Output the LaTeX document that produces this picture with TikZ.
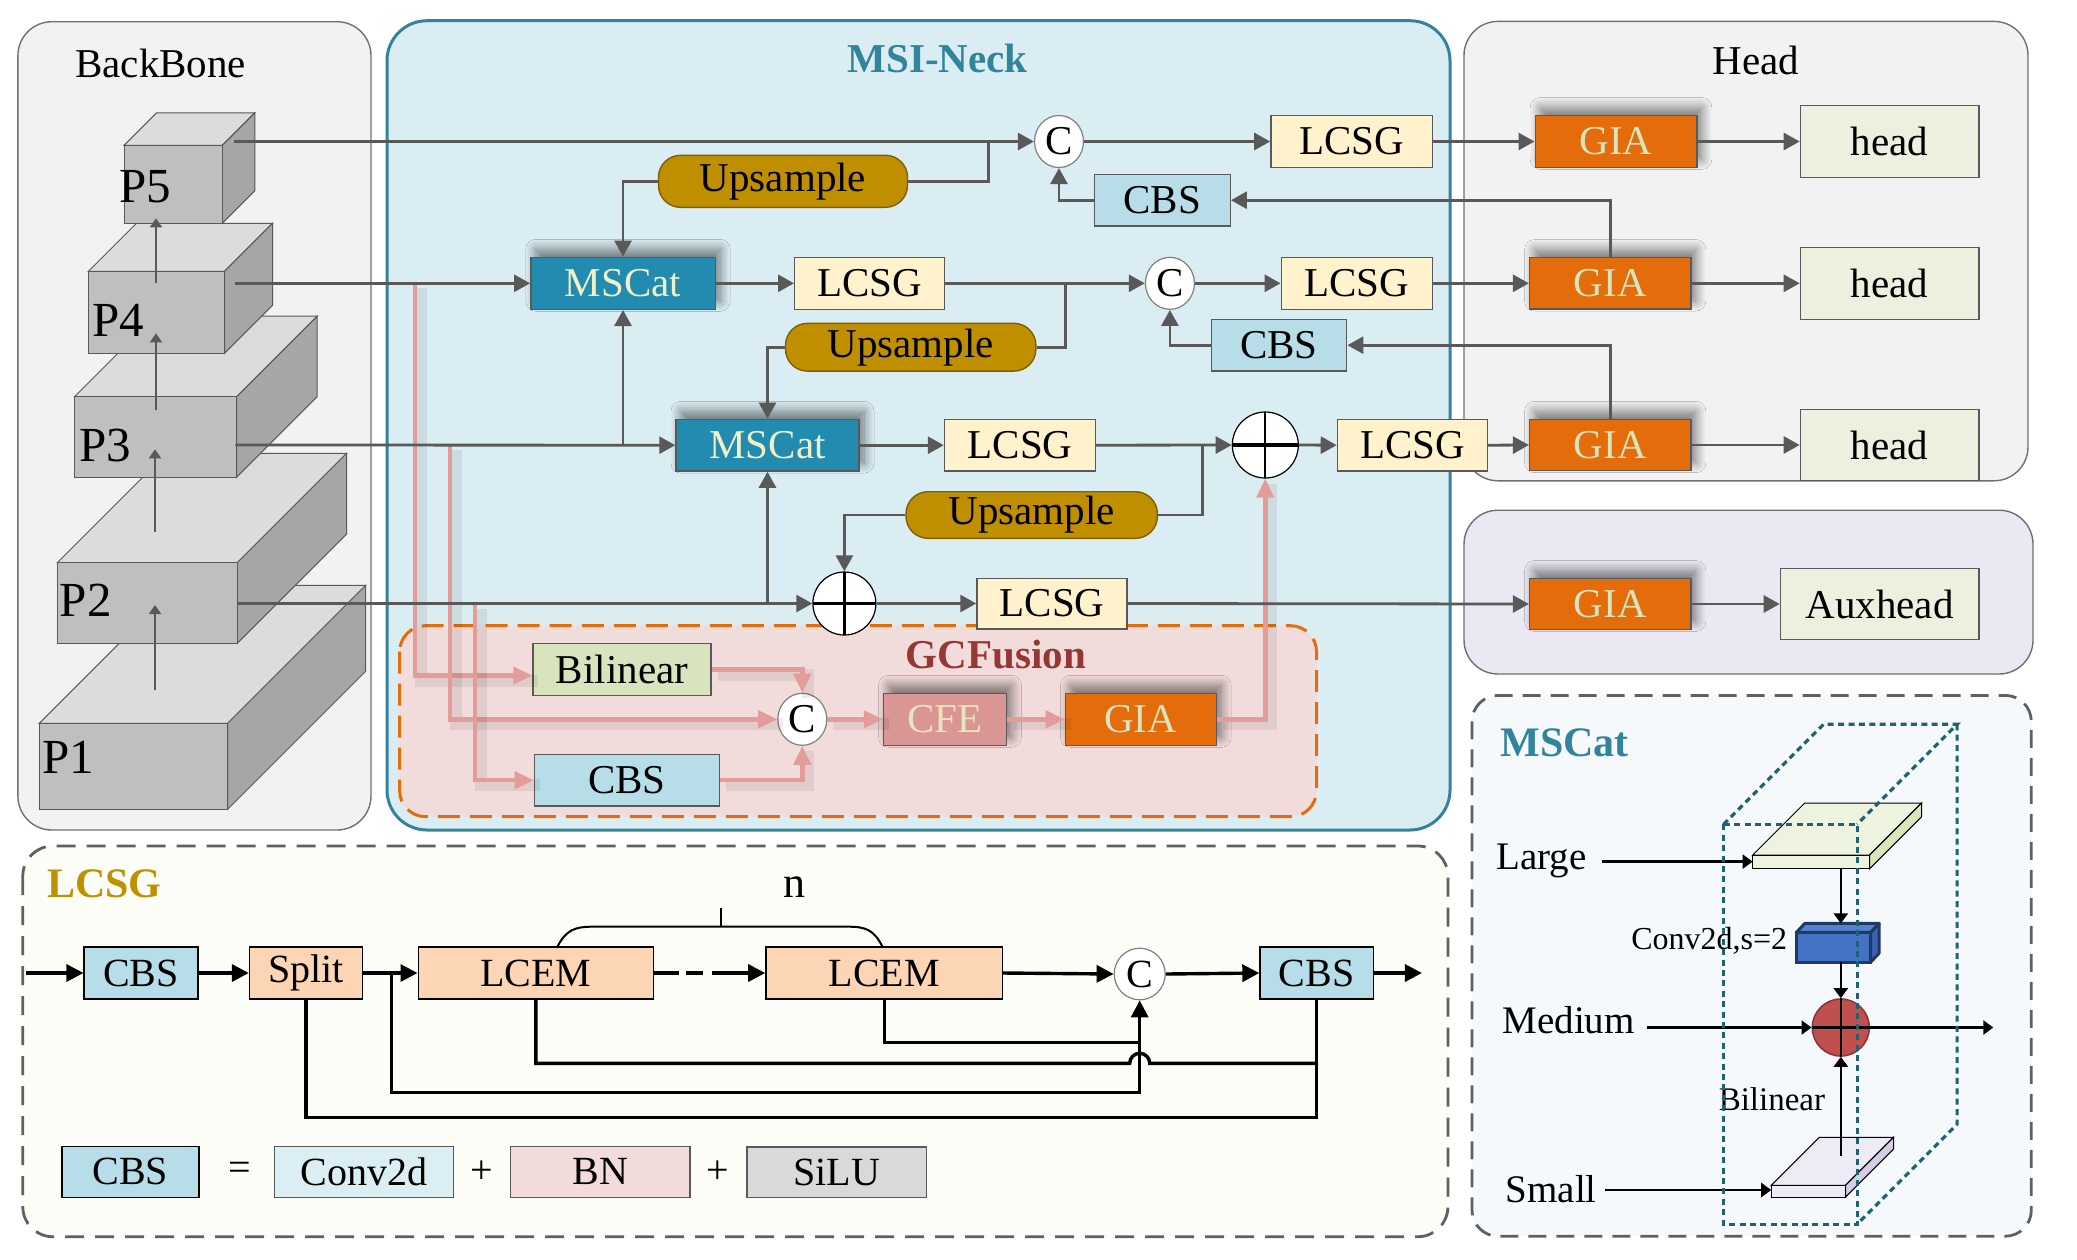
\documentclass[tikz,border=0pt]{standalone}
\usepackage{fontspec}
\setmainfont{Liberation Serif}
\usetikzlibrary{arrows.meta,shapes.geometric,shadows.blur,calc}

\definecolor{bbfill}{HTML}{F2F2F2}
\definecolor{panelline}{HTML}{707070}
\definecolor{neckfill}{HTML}{DAEDF3}
\definecolor{neckline}{HTML}{31849B}
\definecolor{auxfill}{HTML}{EAE8F2}
\definecolor{mspanel}{HTML}{F5F9FB}
\definecolor{lcpanel}{HTML}{FDFDF8}
\definecolor{dashgray}{HTML}{606060}
\definecolor{gcfill}{HTML}{F2DCDB}
\definecolor{gcline}{HTML}{E46C0A}
\definecolor{gctitle}{HTML}{953735}
\definecolor{lctitle}{HTML}{BF9000}
\definecolor{mstitle}{HTML}{31849B}
\definecolor{wire}{HTML}{595959}
\definecolor{pinkw}{HTML}{E39C97}
\definecolor{lcsgfill}{HTML}{FFF2CC}
\definecolor{msfill}{HTML}{228BAF}
\definecolor{mstext}{HTML}{EEF0C8}
\definecolor{upfill}{HTML}{BF8F00}
\definecolor{upline}{HTML}{7F6000}
\definecolor{cbsfill}{HTML}{B7DDE8}
\definecolor{giafill}{HTML}{E46C0A}
\definecolor{giatext}{HTML}{D7E4BD}
\definecolor{headfill}{HTML}{EBF1DE}
\definecolor{bilfill}{HTML}{D7E4BD}
\definecolor{cfefill}{HTML}{D99694}
\definecolor{cfetext}{HTML}{EBE3BE}
\definecolor{peach}{HTML}{FCD5B4}
\definecolor{convfill}{HTML}{DBEEF4}
\definecolor{bnfill}{HTML}{F2DCDB}
\definecolor{silufill}{HTML}{D9D9D9}
\definecolor{cubefront}{HTML}{BFBFBF}
\definecolor{cubetop}{HTML}{DCDCDC}
\definecolor{cubeside}{HTML}{A6A6A6}
\definecolor{cubeline}{HTML}{595959}
\definecolor{dotline}{HTML}{1F6272}
\definecolor{largefront}{HTML}{EEF3E0}
\definecolor{largeside}{HTML}{D7E4BC}
\definecolor{smallfront}{HTML}{EFEBF6}
\definecolor{smallside}{HTML}{D5CCE5}
\definecolor{convblue}{HTML}{4472C4}
\definecolor{convtop}{HTML}{5582D0}
\definecolor{convside}{HTML}{3A62AD}
\definecolor{convdark}{HTML}{1F3864}
\definecolor{redc}{HTML}{C0504D}
\definecolor{redline}{HTML}{8C3836}

\newcommand\myfs[1]{\fontsize{#1}{#1}\selectfont}
\newcommand\mycube[5]{%
  \filldraw[fill=cubetop,draw=cubeline,line width=0.5pt] (#1,#2) -- (#1+#5,#2-#5) -- (#3+#5,#2-#5) -- (#3,#2) -- cycle;
  \filldraw[fill=cubeside,draw=cubeline,line width=0.5pt] (#3,#2) -- (#3+#5,#2-#5) -- (#3+#5,#4-#5) -- (#3,#4) -- cycle;
  \filldraw[fill=cubefront,draw=cubeline,line width=0.5pt] (#1,#2) rectangle (#3,#4);}

\tikzset{
  txt/.style={font=\myfs{20.5}},
  bx/.style={draw=wire, line width=0.7pt, inner sep=0pt, txt},
  shd/.style={blur shadow={shadow xshift=2.5pt, shadow yshift=4pt, shadow blur radius=5pt, shadow blur steps=12, shadow opacity=50}},
  lcB/.style={bx, fill=lcsgfill},
  msB/.style={bx, fill=msfill, text=mstext, shd},
  upB/.style={bx, draw=upline, fill=upfill, rounded corners=11pt},
  cbsB/.style={bx, fill=cbsfill},
  giaB/.style={bx, fill=giafill, text=giatext, shd},
  headB/.style={bx, fill=headfill},
  bilB/.style={bx, fill=bilfill},
  cfeB/.style={bx, fill=cfefill, text=cfetext, shd},
  cN/.style={ellipse, draw=gray, line width=0.6pt, fill=white, inner sep=0pt, minimum width=24.5pt, minimum height=26pt, txt},
  plusN/.style={circle, draw=black, line width=0.6pt, fill=white, inner sep=0pt,
     path picture={\draw[line width=1.8pt] (path picture bounding box.west) -- (path picture bounding box.east);
                   \draw[line width=1.1pt] (path picture bounding box.north) -- (path picture bounding box.south);}},
  gw/.style={draw=wire, line width=1.4pt},
  ga/.style={gw, -{Triangle[length=8pt,width=8.5pt]}},
  pshadow/.style={preaction={draw=black, draw opacity=0.07, line width=6pt, -, transform canvas={shift={(3pt,-2.5pt)}}}},
  pw/.style={pshadow, draw=pinkw, line width=2.2pt},
  pa/.style={pw, -{Triangle[length=9.5pt,width=8.5pt]}},
  bw/.style={draw=black, line width=1.7pt},
  ba/.style={bw, -{Triangle[length=8.5pt,width=8.5pt]}},
  ka/.style={draw=black, line width=1.2pt, -{Triangle[length=5pt,width=7pt]}},
  ca/.style={draw=wire, line width=1pt, -{Triangle[length=4.5pt,width=6pt]}},
  lbB/.style={draw=black, line width=0.8pt, inner sep=0pt, font=\myfs{20}},
  ptxt/.style={font=\myfs{24.5}},
}

\begin{document}
\begin{tikzpicture}[x=0.5pt,y=-0.5pt]
\useasboundingbox (0,0) rectangle (2077,1259);
\fill[white] (0,0) rectangle (2077,1259);

% ---------- panels ----------
\filldraw[fill=bbfill,draw=panelline,line width=0.7pt,rounded corners=17pt] (17.9,21.7) rectangle (371,830);
\filldraw[fill=neckfill,draw=neckline,line width=1.5pt,rounded corners=20pt] (387,20.7) rectangle (1450,830);
\filldraw[fill=bbfill,draw=panelline,line width=0.7pt,rounded corners=17pt] (1464,21.4) rectangle (2028,480.8);
\filldraw[fill=auxfill,draw=panelline,line width=0.7pt,rounded corners=17pt] (1464,510.2) rectangle (2033,674);
\filldraw[fill=mspanel,draw=dashgray,line width=1.4pt,dash pattern=on 9pt off 5pt,rounded corners=13pt] (1472,695.4) rectangle (2031.3,1236.2);
\filldraw[fill=lcpanel,draw=dashgray,line width=1.4pt,dash pattern=on 9.5pt off 5.5pt,rounded corners=15pt] (22.8,846) rectangle (1447.9,1236.7);
\filldraw[fill=gcfill,draw=gcline,line width=1.5pt,dash pattern=on 11pt off 5pt,rounded corners=13pt] (399.6,625.7) rectangle (1316.5,816.7);

% ---------- titles ----------
\node[txt] (tBB) at (160.7,63.3) {BackBone};
\node[txt,text=mstitle] (tNeck) at (937.7,58.3) {\bfseries MSI-Neck};
\node[txt] (tHead) at (1756,60.3) {Head};
\node[txt,text=gctitle] (tGC) at (995.9,655) {\bfseries GCFusion};
\node[font=\myfs{21},text=mstitle] (tMS) at (1564.8,742.6) {\bfseries MSCat};
\node[font=\myfs{21},text=lctitle] (tLC) at (104.2,883.3) {\bfseries LCSG};

% ---------- backbone cubes ----------
\mycube{39.3}{723.3}{227.7}{809.3}{138}
\mycube{57.3}{562.7}{237.3}{643.3}{109.4}
\mycube{74.5}{396.7}{236.6}{477.3}{80.6}
\mycube{88.4}{271.3}{224.5}{353.3}{48}
\mycube{124.1}{145.3}{222.3}{223.3}{32.5}
\node[ptxt] (tP5) at (145,186.7) {P5};
\node[ptxt] (tP4) at (118.3,320) {P4};
\node[ptxt] (tP3) at (105,446) {P3};
\node[ptxt] (tP2) at (85.7,600) {P2};
\node[ptxt] (tP1) at (68.3,757.3) {P1};
\coordinate (a1s) at (155,690);   \coordinate (a1e) at (155,605);
\coordinate (a2s) at (155,531.7); \coordinate (a2e) at (155,449.3);
\coordinate (a3s) at (156,410);   \coordinate (a3e) at (156,333.3);
\coordinate (a4s) at (156,283.3); \coordinate (a4e) at (156,218.3);
\draw[ca] (a1s) -- (a1e);
\draw[ca] (a2s) -- (a2e);
\draw[ca] (a3s) -- (a3e);
\draw[ca] (a4s) -- (a4e);

% ---------- neck nodes ----------
\node[msB, minimum width=92.2pt, minimum height=26pt] (m1) at (623,283.3) {MSCat};
\node[msB, minimum width=91.5pt, minimum height=25.9pt] (m2) at (767.5,445.2) {MSCat};
\node[lcB, minimum width=80.7pt, minimum height=25.8pt] (l1) at (1351.6,141.5) {LCSG};
\node[lcB, minimum width=75pt, minimum height=26pt] (l2) at (869.7,283.3) {LCSG};
\node[lcB, minimum width=75.5pt, minimum height=26pt] (l3) at (1356.8,283.3) {LCSG};
\node[lcB, minimum width=75.5pt, minimum height=25.9pt] (l4) at (1020,445.2) {LCSG};
\node[lcB, minimum width=75pt, minimum height=25.9pt] (l5) at (1412.4,445.2) {LCSG};
\node[lcB, minimum width=75pt, minimum height=25.3pt] (l6) at (1052,603.5) {LCSG};
\node[upB, minimum width=124.5pt, minimum height=26pt] (u1) at (783,181.3) {Upsample};
\node[upB, minimum width=125.2pt, minimum height=23.9pt] (u2) at (910.7,347.2) {Upsample};
\node[upB, minimum width=125.7pt, minimum height=23.3pt] (u3) at (1031.7,515) {Upsample};
\node[cbsB, minimum width=68pt, minimum height=25.9pt] (cb1) at (1162.2,200.2) {CBS};
\node[cbsB, minimum width=67.7pt, minimum height=25.9pt] (cb2) at (1279,345.2) {CBS};
\node[cN] (c1) at (1059,141.5) {C};
\node[cN] (c2) at (1169.9,283.3) {C};
\node[plusN, minimum size=33pt] (p1) at (1265.3,445) {};
\node[plusN, minimum size=31.5pt] (p2) at (844.4,603.5) {};

% ---------- GCFusion connectors (under nodes) ----------
\coordinate (k1) at (415.1,283.3);
\coordinate (k2) at (450.2,445);
\coordinate (k3) at (474.7,603.5);

\node[bilB, minimum width=89pt, minimum height=26.2pt] (bil) at (622,669.5) {Bilinear};
\node[cN] (c3) at (802.3,719.3) {C};
\node[cfeB, minimum width=61.4pt, minimum height=26pt] (cfe) at (945,719.3) {CFE};
\node[giaB, minimum width=75.4pt, minimum height=26pt] (g5) at (1140.8,719.3) {GIA};
\node[cbsB, minimum width=92.6pt, minimum height=25.9pt] (cb3) at (626.9,780.2) {CBS};

\draw[pa] (k1) |- ($(bil.west)+(0,6)$);
\draw[pa] (k2) |- (c3.west);
\draw[pa] (k3) |- (cb3.west);
\draw[pa] (bil.east) -| (c3.north);
\draw[pa] (cb3.east) -| (c3.south);
\draw[pa] (c3.east) -- (cfe.west);
\draw[pa] (cfe.east) -- (g5.west);
\draw[pa] (g5.east) -| (p1.south);

% ---------- head nodes ----------
\node[giaB, minimum width=80.8pt, minimum height=25.9pt] (g1) at (1616,141.5) {GIA};
\node[giaB, minimum width=80.6pt, minimum height=25.7pt] (g2) at (1610.2,283.3) {GIA};
\node[giaB, minimum width=80.6pt, minimum height=25.7pt] (g3) at (1610.2,445) {GIA};
\node[giaB, minimum width=80.6pt, minimum height=25.5pt] (g4) at (1610.2,604) {GIA};
\node[headB, minimum width=89.2pt, minimum height=35.9pt] (h1) at (1889.6,141.5) {head};
\node[headB, minimum width=89.2pt, minimum height=35.9pt] (h2) at (1889.6,283.3) {head};
\node[headB, minimum width=89.2pt, minimum height=35.7pt] (h3) at (1889.6,445) {head};
\node[headB, minimum width=99.2pt, minimum height=35.7pt] (aux) at (1879.6,604) {Auxhead};

% ---------- neck connectors ----------
\coordinate (o5) at (234,141.5);
\coordinate (o4) at (235.3,283.3);
\coordinate (o3) at (235.3,445);
\coordinate (o2) at (237.3,603.5);
\draw[ga] (o5) -- (c1.west);
\draw[ga] (c1.east) -- (l1.west);
\draw[ga] (l1.east) -- (g1.west);
\draw[ga] (g1.east) -- (h1.west);
\draw[ga] (o4) -- (m1.west);
\draw[ga] (m1.east) -- (l2.west);
\draw[ga] (l2.east) -- (c2.west);
\draw[ga] (c2.east) -- (l3.west);
\draw[ga] (l3.east) -- (g2.west);
\draw[ga] (g2.east) -- (h2.west);
\draw[ga] (o3) -- (m2.west);
\draw[ga] (m2.east) -- (l4.west);
\draw[ga] (l4.east) -- (p1.west);
\draw[ga] (p1.east) -- (l5.west);
\draw[ga] (l5.east) -- (g3.west);
\draw[ga] (g3.east) -- (h3.west);
\draw[ga] (o2) -- (p2.west);
\draw[ga] (p2.east) -- (l6.west);
\draw[ga] (l6.east) -- (g4.west);
\draw[ga] (g4.east) -- (aux.west);

\coordinate (j1) at (988.2,141.5);
\coordinate (j2) at (1065.4,283.3);
\coordinate (j3) at (1202.2,445);
\draw[gw] (j1) |- (u1.east);
\draw[ga] (u1.west) -| (m1.north);
\draw[gw] (j2) |- (u2.east);
\draw[ga] (u2.west) -| (m2.north);
\draw[gw] (j3) |- (u3.east);
\draw[ga] (u3.west) -| (p2.north);
\coordinate (j4) at (623,445);
\coordinate (j5) at (767.5,603.5);
\draw[ga] (j4) -- (m1.south);
\draw[ga] (j5) -- (m2.south);
\draw[ga] (g2.north) |- (cb1.east);
\draw[ga] (cb1.west) -| (c1.south);
\draw[ga] (g3.north) |- (cb2.east);
\draw[ga] (cb2.west) -| (c2.south);

% ---------- LCSG panel ----------
\node[lbB, fill=cbsfill, minimum width=56.75pt, minimum height=25.8pt] (cbsA) at (141,973) {CBS};
\node[lbB, fill=peach, minimum width=56.5pt, minimum height=25.8pt] (split) at (306.1,973) {Split};
\node[lbB, fill=peach, minimum width=117.6pt, minimum height=25.8pt] (lcem1) at (535.9,973) {LCEM};
\node[lbB, fill=peach, minimum width=118.2pt, minimum height=25.8pt] (lcem2) at (884.2,973) {LCEM};
\node[cN, minimum width=25.5pt, minimum height=25.8pt, font=\myfs{20}] (c4) at (1139.7,974) {C};
\node[lbB, fill=cbsfill, minimum width=56.6pt, minimum height=25.8pt] (cbsB) at (1316.7,973) {CBS};
\node[font=\myfs{22}] (tn) at (794.5,887) {n};

\coordinate (lin) at (26,973);
\coordinate (lout) at (1421.9,973);
\draw[ba] (lin) -- (cbsA.west);
\draw[ba] (cbsA.east) -- (split.west);
\draw[ba] (split.east) -- (lcem1.west);
\draw[ba, dash pattern=on 12.5pt off 3.5pt on 8.5pt off 4.5pt on 100pt] (lcem1.east) -- (lcem2.west);
\draw[ba] (lcem2.east) -- (c4.west);
\draw[ba] (c4.east) -- (cbsB.west);
\draw[ba] (cbsB.east) -- (lout);

\coordinate (sj) at (391.3,973);
\coordinate (sjb) at (391.3,1092.3);
\draw[ba] (sj) -- (sjb) -| (c4.south);
\coordinate (e2) at (884.2,1042.3);
\draw[bw] (lcem2.south) -- (e2) -- (c4.south |- e2);
\coordinate (e1) at (535.9,1063.3);
\coordinate (e1h) at (1129.7,1063.3);
\draw[bw] (lcem1.south) -- (e1) -- (e1h) arc[start angle=180,end angle=0,radius=5pt] -- (cbsB.south |- e1);
\coordinate (e0) at (306.1,1117.3);
\draw[bw] (split.south) -- (e0) -- (cbsB.south |- e0) -- (cbsB.south);

% brace over LCEMs
\coordinate (br1) at (557.4,946.7);
\coordinate (br2) at (882.5,946.7);
\coordinate (brt) at (720.8,908.3);
\draw[line width=1pt] (br1) .. controls (566,930) and (575,926.7) .. (592,926.7) -- (848.5,926.7) .. controls (866,926.7) and (874,930) .. (br2);
\draw[line width=1pt] (brt) -- (720.8,926.7);

% legend
\node[lbB, fill=cbsfill, minimum width=68.5pt, minimum height=25.5pt] (legC) at (130.2,1171.8) {CBS};
\node[font=\myfs{20}] (eq) at (239.6,1171.7) {=};
\node[lbB, draw=wire, fill=convfill, minimum width=89.6pt, minimum height=25.5pt] (conv) at (364,1171.8) {Conv2d};
\node[font=\myfs{20}] (pl1) at (481.7,1171.7) {+};
\node[lbB, draw=wire, fill=bnfill, minimum width=89.6pt, minimum height=25.5pt] (bn) at (600.2,1171.8) {BN};
\node[font=\myfs{20}] (pl2) at (717.5,1171.7) {+};
\node[lbB, draw=wire, fill=silufill, minimum width=89.7pt, minimum height=25.3pt] (silu) at (836.7,1172) {SiLU};

% ---------- MSCat panel ----------
% large slab
\filldraw[fill=largefront,draw=black,line width=0.5pt] (1752.6,855.1) -- (1804.6,803.1) -- (1921.5,803.1) -- (1869.5,855.1) -- cycle;
\filldraw[fill=largeside,draw=black,line width=0.5pt] (1869.5,855.1) -- (1921.5,803.1) -- (1921.5,816.9) -- (1869.5,868.9) -- cycle;
\filldraw[fill=largefront,draw=black,line width=0.5pt] (1752.6,855.1) rectangle (1869.5,868.9);
% small slab
\filldraw[fill=smallfront,draw=black,line width=0.5pt] (1771.2,1185.4) -- (1819.2,1137.4) -- (1893.5,1137.4) -- (1845.5,1185.4) -- cycle;
\filldraw[fill=smallside,draw=black,line width=0.5pt] (1845.5,1185.4) -- (1893.5,1137.4) -- (1893.5,1149) -- (1845.5,1197) -- cycle;
\filldraw[fill=smallfront,draw=black,line width=0.5pt] (1771.2,1185.4) rectangle (1845.5,1197);
% conv box
\filldraw[fill=convtop,draw=convdark,line width=1.5pt,line join=round] (1796.3,932.4) -- (1804.8,923.4) -- (1879.1,923.4) -- (1870.6,932.4) -- cycle;
\filldraw[fill=convside,draw=convdark,line width=1.5pt,line join=round] (1870.6,932.4) -- (1879.1,923.4) -- (1879.1,953.2) -- (1870.6,962.2) -- cycle;
\filldraw[fill=convblue,draw=convdark,line width=1.5pt] (1796.3,932.4) rectangle (1870.6,962.2);

\node[circle, fill=redc, draw=redline, line width=0.8pt, minimum size=28.5pt, inner sep=0pt] (rc) at (1840.8,1027.5) {};
\node[font=\myfs{19.5}] (tLarge) at (1541.6,860.6) {Large};
\node[font=\myfs{19.5}] (tMed) at (1568.7,1020.2) {Medium};
\node[font=\myfs{19.5}] (tSmall) at (1551.3,1189) {Small};
\node[font=\myfs{16}] (tConv) at (1709.2,940.4) {Conv2d,s=2};
\node[font=\myfs{16.5}] (tBil) at (1771.9,1099.4) {Bilinear};

\coordinate (aL0) at (1601.6,861.6);
\coordinate (aL1) at (1752.6,861.6);
\coordinate (aM0) at (1647.3,1027.5);
\coordinate (aM1) at (1993.3,1027.5);
\coordinate (aS0) at (1604.7,1190);
\coordinate (aS1) at (1771.2,1190);
\coordinate (v0) at (1840.8,868.9);
\coordinate (v1) at (1840.8,923.4);
\coordinate (v2) at (1840.8,962.2);
\coordinate (v3) at (1840.8,1156.3);
\draw[ka] (aL0) -- (aL1);
\draw[ka] (aS0) -- (aS1);
\draw[ka] (aM0) -- (rc.west);
\draw[ka] (rc.east) -- (aM1);
\draw[ka] (v0) -- (v1);
\draw[ka] (v2) -- (rc.north);
\draw[ka] (v3) -- (rc.south);
\draw[black,line width=1.2pt] (rc.west) -- (rc.east) (rc.north) -- (rc.south);

% dotted outer cuboid
\begin{scope}[draw=dotline, line width=1.6pt, dash pattern=on 3pt off 2.2pt]
\draw (1723.5,824.3) rectangle (1857.1,1224.2);
\draw (1723.5,824.3) -- (1823.5,724.3) -- (1957.1,724.3) -- (1857.1,824.3);
\draw (1957.1,724.3) -- (1957.1,1124.2) -- (1857.1,1224.2);
\end{scope}

\end{tikzpicture}
\end{document}
